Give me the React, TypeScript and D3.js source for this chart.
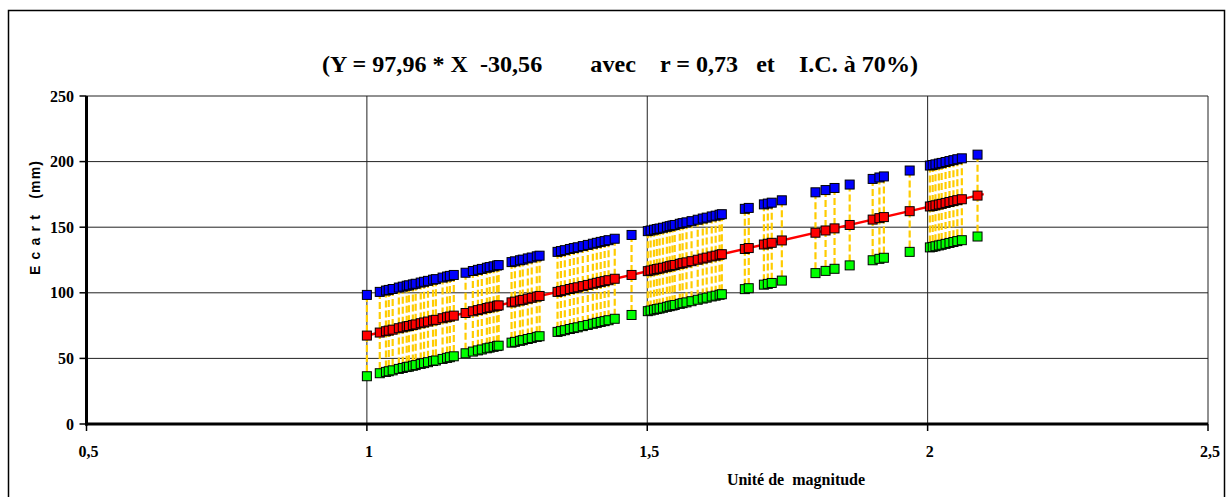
import React from "react";
import * as d3 from "d3";

const magnitude = [
  1.0, 1.023, 1.034, 1.039, 1.046, 1.057, 1.064, 1.071, 1.075, 1.082, 1.087, 1.096, 1.102, 1.109, 1.118, 1.123, 1.135, 1.143, 1.148, 1.155,
  1.176, 1.189, 1.198, 1.205, 1.214, 1.219, 1.226, 1.232, 1.235, 1.258, 1.264, 1.273, 1.278, 1.287, 1.294, 1.303, 1.308,
  1.34, 1.346, 1.353, 1.362, 1.369, 1.376, 1.385, 1.394, 1.403, 1.41, 1.417, 1.424, 1.431, 1.442, 1.472,
  1.501, 1.506, 1.512, 1.517, 1.522, 1.528, 1.535, 1.54, 1.545, 1.549, 1.558, 1.563, 1.57, 1.579, 1.59, 1.599, 1.606, 1.615, 1.622, 1.629, 1.633,
  1.674, 1.681, 1.708, 1.715, 1.722, 1.74,
  1.8, 1.818, 1.834, 1.861,
  1.902, 1.914, 1.922, 1.968,
  2.004, 2.009, 2.014, 2.02, 2.025, 2.032, 2.039, 2.046, 2.053, 2.061, 2.089,
];

// écart ajusté (rouge)
const ecartFit = [
  67.4, 69.7, 70.7, 71.2, 71.9, 73.0, 73.7, 74.4, 74.7, 75.4, 75.9, 76.8, 77.4, 78.1, 79.0, 79.4, 80.6, 81.4, 81.9, 82.6,
  84.6, 85.9, 86.8, 87.5, 88.4, 88.9, 89.5, 90.1, 90.4, 92.7, 93.3, 94.1, 94.6, 95.5, 96.2, 97.1, 97.6,
  100.7, 101.3, 102.0, 102.9, 103.6, 104.2, 105.1, 106.0, 106.9, 107.6, 108.3, 108.9, 109.6, 110.7, 113.6,
  116.5, 117.0, 117.6, 118.1, 118.5, 119.1, 119.8, 120.3, 120.8, 121.2, 122.1, 122.6, 123.2, 124.1, 125.2, 126.1, 126.8, 127.7, 128.3, 129.0, 129.4,
  133.4, 134.1, 136.8, 137.4, 138.1, 139.9,
  145.8, 147.5, 149.1, 151.7,
  155.8, 156.9, 157.7, 162.2,
  165.8, 166.2, 166.7, 167.3, 167.8, 168.5, 169.2, 169.9, 170.6, 171.3, 174.1,
];

// borne haute I.C. (bleu)
const ecartHaut = [
  98.4, 100.7, 101.7, 102.2, 102.9, 104.0, 104.7, 105.4, 105.7, 106.4, 106.9, 107.8, 108.4, 109.1, 110.0, 110.4, 111.6, 112.4, 112.9, 113.6,
  115.3, 116.6, 117.5, 118.2, 119.1, 119.6, 120.2, 120.8, 121.1, 123.4, 124.0, 124.8, 125.3, 126.2, 126.9, 127.8, 128.3,
  131.2, 131.8, 132.5, 133.4, 134.1, 134.7, 135.6, 136.5, 137.4, 138.1, 138.8, 139.4, 140.1, 141.2, 144.1,
  147.0, 147.5, 148.1, 148.6, 149.0, 149.6, 150.3, 150.8, 151.3, 151.7, 152.6, 153.1, 153.7, 154.6, 155.7, 156.6, 157.3, 158.2, 158.8, 159.5, 159.9,
  164.0, 164.7, 167.4, 168.0, 168.7, 170.5,
  176.6, 178.3, 179.9, 182.5,
  186.8, 187.9, 188.7, 193.2,
  197.0, 197.4, 197.9, 198.5, 199.0, 199.7, 200.4, 201.1, 201.8, 202.5, 205.3,
];

// borne basse I.C. (vert)
const ecartBas = [
  36.4, 38.7, 39.7, 40.2, 40.9, 42.0, 42.7, 43.4, 43.7, 44.4, 44.9, 45.8, 46.4, 47.1, 48.0, 48.4, 49.6, 50.4, 50.9, 51.6,
  53.9, 55.2, 56.1, 56.8, 57.7, 58.2, 58.8, 59.4, 59.7, 62.0, 62.6, 63.4, 63.9, 64.8, 65.5, 66.4, 66.9,
  70.2, 70.8, 71.5, 72.4, 73.1, 73.7, 74.6, 75.5, 76.4, 77.1, 77.8, 78.4, 79.1, 80.2, 83.1,
  86.0, 86.5, 87.1, 87.6, 88.0, 88.6, 89.3, 89.8, 90.3, 90.7, 91.6, 92.1, 92.7, 93.6, 94.7, 95.6, 96.3, 97.2, 97.8, 98.5, 98.9,
  102.8, 103.5, 106.2, 106.8, 107.5, 109.3,
  115.0, 116.7, 118.3, 120.9,
  124.8, 125.9, 126.7, 131.2,
  134.6, 135.0, 135.5, 136.1, 136.6, 137.3, 138.0, 138.7, 139.4, 140.1, 142.9,
];

// droite de régression
const fitLineX = [1.0, 2.1];
const fitLineY = [67.4, 175.2];

const xTicks = [0.5, 1, 1.5, 2, 2.5];
const xTickLabels = ["0,5", "1", "1,5", "2", "2,5"];
const yTicks = [0, 50, 100, 150, 200, 250];

const title = "(Y = 97,96 * X  -30,56        avec    r = 0,73   et    I.C. à 70%)";

const W = 1228;
const H = 497;
const plot = { left: 86.5, right: 1208, top: 96, bottom: 424 };
const serif = "'Liberation Serif', 'Times New Roman', serif";
const sans = "'Liberation Sans', Arial, sans-serif";

export default function App() {
  const x = d3.scaleLinear().domain([0.5, 2.5]).range([plot.left, plot.right]);
  const y = d3.scaleLinear().domain([0, 250]).range([plot.bottom, plot.top]);

  const fitPath = d3
    .line<number>()
    .x((_, i) => x(fitLineX[i]))
    .y((d) => y(d))(fitLineY);

  const ms = 9; // taille des marqueurs

  const markers = (vals: number[], fill: string) =>
    vals.map((v, i) => (
      <rect
        key={fill + i}
        x={x(magnitude[i]) - ms / 2}
        y={y(v) - ms / 2}
        width={ms}
        height={ms}
        fill={fill}
        stroke="#000"
        strokeWidth={1}
      />
    ));

  return (
    <svg
      width={W}
      height={H}
      style={{ position: "absolute", left: 0, top: 0, background: "#fff" }}
    >
      {/* cadre */}
      <rect x={8.5} y={10.5} width={1216} height={500} fill="#fff" stroke="#000" strokeWidth={1.5} />

      <text
        x={620}
        y={72}
        textAnchor="middle"
        fontFamily={serif}
        fontWeight="bold"
        fontSize={23}
        style={{ whiteSpace: "pre" }}
        textLength={596}
        lengthAdjust="spacingAndGlyphs"
      >
        {title}
      </text>

      {/* grille */}
      {yTicks.slice(1).map((t) => (
        <line key={"gy" + t} x1={plot.left} x2={plot.right} y1={y(t)} y2={y(t)} stroke="#222" strokeWidth={1} />
      ))}
      {xTicks.slice(1).map((t) => (
        <line key={"gx" + t} x1={x(t)} x2={x(t)} y1={plot.top} y2={plot.bottom} stroke="#222" strokeWidth={1} />
      ))}

      {/* intervalles (pointillés jaunes) */}
      {magnitude.map((m, i) => (
        <line
          key={"ic" + i}
          x1={x(m)}
          x2={x(m)}
          y1={y(ecartHaut[i])}
          y2={y(ecartBas[i])}
          stroke="#FFCC00"
          strokeWidth={2.2}
          strokeDasharray="7,3"
        />
      ))}

      <path d={fitPath ?? ""} fill="none" stroke="#FF0000" strokeWidth={2.5} />

      {markers(ecartHaut, "#0000FF")}
      {markers(ecartBas, "#00FF00")}
      {markers(ecartFit, "#FF0000")}

      {/* axes */}
      <line x1={plot.left} x2={plot.left} y1={plot.top} y2={plot.bottom + 1.5} stroke="#000" strokeWidth={3} />
      <line x1={plot.left - 1.5} x2={plot.right} y1={plot.bottom} y2={plot.bottom} stroke="#000" strokeWidth={3} />

      {yTicks.map((t) => (
        <g key={"yt" + t}>
          <line x1={plot.left - 7} x2={plot.left} y1={y(t)} y2={y(t)} stroke="#000" strokeWidth={1.5} />
          <text
            x={74}
            y={y(t) + 5.5}
            textAnchor="end"
            fontFamily={serif}
            fontWeight="bold"
            fontSize={16}
          >
            {t}
          </text>
        </g>
      ))}

      {xTicks.map((t, i) => (
        <g key={"xt" + t}>
          <line x1={x(t)} x2={x(t)} y1={plot.bottom} y2={plot.bottom + 7} stroke="#000" strokeWidth={1.5} />
          <text
            x={x(t) + 2}
            y={457}
            textAnchor="middle"
            fontFamily={serif}
            fontWeight="bold"
            fontSize={16}
          >
            {xTickLabels[i]}
          </text>
        </g>
      ))}

      <text
        x={796}
        y={485}
        textAnchor="middle"
        fontFamily={serif}
        fontWeight="bold"
        fontSize={16}
        style={{ whiteSpace: "pre" }}
      >
        {"Unité de  magnitude"}
      </text>

      <text
        transform="translate(40,218) rotate(-90)"
        textAnchor="middle"
        fontFamily={sans}
        fontWeight="bold"
        fontSize={14}
        style={{ whiteSpace: "pre" }}
        textLength={114}
        lengthAdjust="spacing"
      >
        {"E c a r t   (mm)"}
      </text>
    </svg>
  );
}
